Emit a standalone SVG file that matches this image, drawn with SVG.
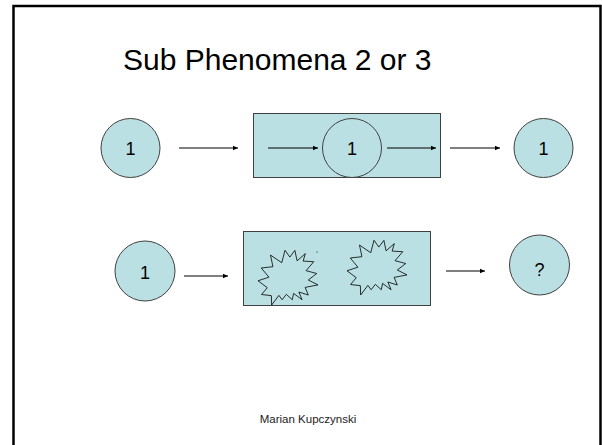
<svg xmlns="http://www.w3.org/2000/svg" width="602" height="445" viewBox="0 0 602 445">
<style>
.node{fill:#bbe0e3;stroke:#404040;stroke-width:1}
.lbl{font-family:"Liberation Sans",Arial,sans-serif;font-size:18px;fill:#000;text-anchor:middle}
.conn{stroke:#000;stroke-width:1;fill:none;marker-end:url(#ah)}
.star{fill:none;stroke:#000;stroke-width:0.8}
</style>
<defs>
<marker id="ah" markerWidth="6" markerHeight="6" refX="5" refY="3" orient="auto" markerUnits="userSpaceOnUse">
<path d="M0,0.8 L5,3 L0,5.2 Z" fill="#000"/>
</marker>
<polygon id="burst" points="31.84,12.06 27.01,5.24 23.75,17.73 12.51,10.07 14.92,21.71 3.26,22.97 10.93,32.2 0,35.77 9.25,42.69 3.57,49.51 13.35,50.67 13.66,60 20.88,50.36 24.17,54.76 28.33,49.31 34.28,54.76 35.59,48.38 44.08,54.76 40.89,47.01 50.31,50.03 47.11,42.39 60,39.92 50.31,35.01 58.73,28.51 48.02,25.68 55.78,16.72 45.11,16.07 47.34,8.61 39.07,15.83 36.88,5.39"/>
</defs>
<rect x="13.5" y="6" width="587" height="460" fill="#fff" stroke="#000" stroke-width="2.5"/>
<text x="123" y="70" font-family="'Liberation Sans',Arial,sans-serif" font-size="30" fill="#000">Sub Phenomena 2 or 3</text>

<g id="n1">
<circle class="node" cx="130.5" cy="148" r="29.5"/>
<text class="lbl" x="130.5" y="155">1</text>
</g>
<g id="box1">
<rect class="node" x="253.5" y="113.5" width="187" height="64"/>
</g>
<g id="n2">
<circle class="node" cx="352" cy="148" r="29.5"/>
<text class="lbl" x="352" y="155">1</text>
</g>
<g id="n3">
<circle class="node" cx="543.5" cy="148" r="29.5"/>
<text class="lbl" x="543.5" y="155">1</text>
</g>

<g id="n4">
<circle class="node" cx="145" cy="271" r="30"/>
<text class="lbl" x="145" y="279">1</text>
</g>
<g id="box2">
<rect class="node" x="243.5" y="231.5" width="187" height="74"/>
<use href="#burst" class="star" transform="translate(258,245) rotate(0)"/>
<use href="#burst" class="star" transform="translate(347,235)"/>
<circle cx="317" cy="252" r="0.6" fill="#000"/>
</g>
<g id="n5">
<circle class="node" cx="539.5" cy="265" r="30"/>
<text class="lbl" x="539.5" y="276">?</text>
</g>

<g id="connectors">
<line class="conn" x1="179" y1="148" x2="238" y2="148"/>
<line class="conn" x1="268" y1="148" x2="318" y2="148"/>
<line class="conn" x1="387" y1="148" x2="436" y2="148"/>
<line class="conn" x1="450" y1="148" x2="500" y2="148"/>
<line class="conn" x1="184" y1="276" x2="228" y2="276"/>
<line class="conn" x1="446" y1="271" x2="485" y2="271"/>
</g>

<text x="308" y="423" font-family="'Liberation Sans',Arial,sans-serif" font-size="11.5" fill="#222" text-anchor="middle">Marian Kupczynski</text>
</svg>
